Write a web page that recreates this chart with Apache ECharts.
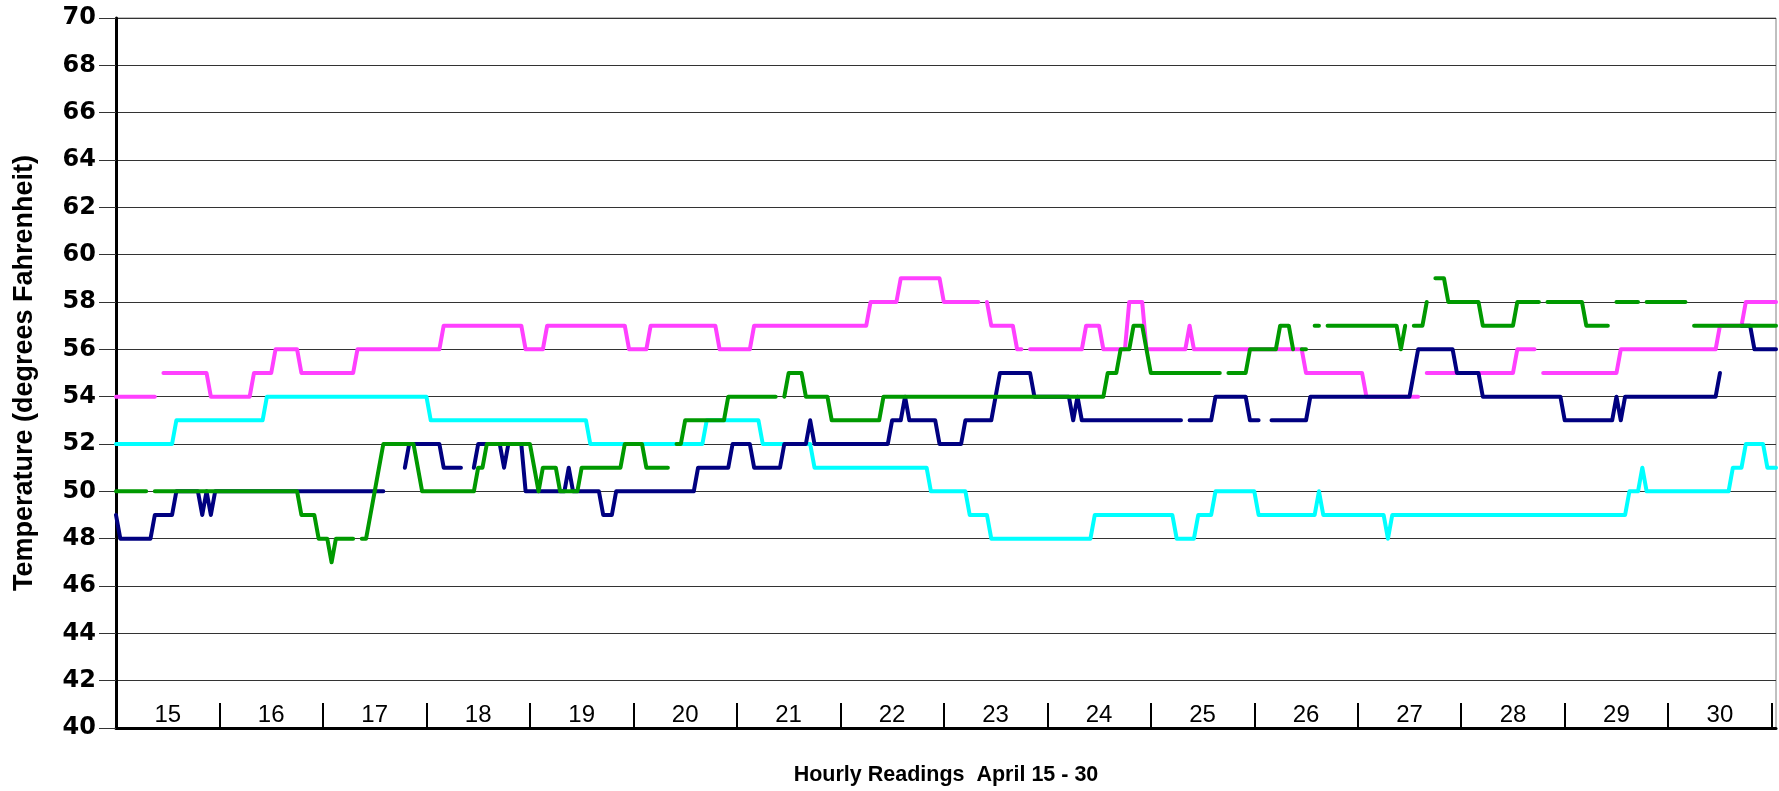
<!DOCTYPE html>
<html>
<head>
<meta charset="utf-8">
<script src="https://cdn.jsdelivr.net/npm/echarts@6/dist/echarts.min.js"></script>
<style>
html,body{margin:0;padding:0;background:#fff;}
#chart{width:1779px;height:791px;}
</style>
</head>
<body>
<div id="chart"></div>
<script>
// Day labels (one per 24 hourly readings)
const dayLabels = ['15','16','17','18','19','20','21','22','23','24','25','26','27','28','29','30'];
const yTicks = {min: 40, max: 70, interval: 2};
const _ = null;

// Hourly readings, one line per day (24 values), plus 2 trailing readings
const navySeries = [
49,48,48,48,48,48,48,48,48,49,49,49,49,49,50,50,50,50,50,50,49,50,49,50,
50,50,50,50,50,50,50,50,50,50,50,50,50,50,50,50,50,50,50,50,50,50,50,50,
50,50,50,50,50,50,50,50,50,50,50,50,50,50,50,_,_,_,_,51,52,52,52,52,
52,52,52,52,51,51,51,51,51,_,_,51,52,52,52,52,52,52,51,52,52,52,52,50,
50,50,50,50,50,50,50,50,50,51,50,50,50,50,50,50,50,49,49,49,50,50,50,50,
50,50,50,50,50,50,50,50,50,50,50,50,50,50,50,51,51,51,51,51,51,51,51,52,
52,52,52,52,51,51,51,51,51,51,51,52,52,52,52,52,52,53,52,52,52,52,52,52,
52,52,52,52,52,52,52,52,52,52,52,52,53,53,53,54,53,53,53,53,53,53,53,52,
52,52,52,52,52,53,53,53,53,53,53,53,54,55,55,55,55,55,55,55,55,54,54,54,
54,54,54,54,54,54,53,54,53,53,53,53,53,53,53,53,53,53,53,53,53,53,53,53,
53,53,53,53,53,53,53,53,_,53,53,53,53,53,53,54,54,54,54,54,54,54,54,53,
53,53,_,_,53,53,53,53,53,53,53,53,53,54,54,54,54,54,54,54,54,54,54,54,
54,54,54,54,54,54,54,54,54,54,54,54,54,55,56,56,56,56,56,56,56,56,56,55,
55,55,55,55,55,54,54,54,54,54,54,54,54,54,54,54,54,54,54,54,54,54,54,54,
53,53,53,53,53,53,53,53,53,53,53,53,54,53,54,54,54,54,54,54,54,54,54,54,
54,54,54,54,54,54,54,54,54,54,54,54,55,_,_,_,_,57,57,57,56,56,56,56,
56,56
];

const magentaSeries = [
54,54,54,54,54,54,54,54,54,54,_,55,55,55,55,55,55,55,55,55,55,55,54,54,
54,54,54,54,54,54,54,54,55,55,55,55,55,56,56,56,56,56,56,55,55,55,55,55,
55,55,55,55,55,55,55,55,56,56,56,56,56,56,56,56,56,56,56,56,56,56,56,56,
56,56,56,56,57,57,57,57,57,57,57,57,57,57,57,57,57,57,57,57,57,57,57,56,
56,56,56,56,57,57,57,57,57,57,57,57,57,57,57,57,57,57,57,57,57,57,57,56,
56,56,56,56,57,57,57,57,57,57,57,57,57,57,57,57,57,57,57,57,56,56,56,56,
56,56,56,56,57,57,57,57,57,57,57,57,57,57,57,57,57,57,57,57,57,57,57,57,
57,57,57,57,57,57,57,58,58,58,58,58,58,58,59,59,59,59,59,59,59,59,59,59,
58,58,58,58,58,58,58,58,58,_,58,57,57,57,57,57,57,56,56,_,56,56,56,56,
56,56,56,56,56,56,56,56,56,57,57,57,57,56,56,56,56,56,56,58,58,58,58,56,
56,56,56,56,56,56,56,56,56,57,56,56,56,56,56,56,56,56,56,56,56,56,56,56,
56,56,56,56,56,56,56,56,56,56,56,56,55,55,55,55,55,55,55,55,55,55,55,55,
55,55,54,54,54,54,54,54,54,54,54,54,54,54,54,_,55,55,55,55,55,55,55,55,
55,55,55,55,55,55,55,55,55,55,55,55,55,56,56,56,56,56,_,55,55,55,55,55,
55,55,55,55,55,55,55,55,55,55,55,55,55,56,56,56,56,56,56,56,56,56,56,56,
56,56,56,56,56,56,56,56,56,56,56,56,57,57,57,57,57,57,58,58,58,58,58,58,
58,58
];

const cyanSeries = [
52,52,52,52,52,52,52,52,52,52,52,52,52,52,53,53,53,53,53,53,53,53,53,53,
53,53,53,53,53,53,53,53,53,53,53,54,54,54,54,54,54,54,54,54,54,54,54,54,
54,54,54,54,54,54,54,54,54,54,54,54,54,54,54,54,54,54,54,54,54,54,54,54,
54,53,53,53,53,53,53,53,53,53,53,53,53,53,53,53,53,53,53,53,53,53,53,53,
53,53,53,53,53,53,53,53,53,53,53,53,53,53,52,52,52,52,52,52,52,52,52,52,
52,52,52,52,52,52,52,52,52,52,52,52,52,52,52,52,52,53,53,53,53,53,53,53,
53,53,53,53,53,53,52,52,52,52,52,52,52,52,52,52,52,52,51,51,51,51,51,51,
51,51,51,51,51,51,51,51,51,51,51,51,51,51,51,51,51,51,51,51,51,50,50,50,
50,50,50,50,50,50,49,49,49,49,49,48,48,48,48,48,48,48,48,48,48,48,48,48,
48,48,48,48,48,48,48,48,48,48,48,49,49,49,49,49,49,49,49,49,49,49,49,49,
49,49,49,49,49,49,48,48,48,48,48,49,49,49,49,50,50,50,50,50,50,50,50,50,
50,49,49,49,49,49,49,49,49,49,49,49,49,49,49,50,49,49,49,49,49,49,49,49,
49,49,49,49,49,49,49,48,49,49,49,49,49,49,49,49,49,49,49,49,49,49,49,49,
49,49,49,49,49,49,49,49,49,49,49,49,49,49,49,49,49,49,49,49,49,49,49,49,
49,49,49,49,49,49,49,49,49,49,49,49,49,49,49,50,50,50,51,50,50,50,50,50,
50,50,50,50,50,50,50,50,50,50,50,50,50,50,50,51,51,51,52,52,52,52,52,51,
51,51
];

const greenSeries = [
50,50,50,50,50,50,50,50,_,50,50,50,50,50,50,50,50,50,50,50,50,50,50,50,
50,50,50,50,50,50,50,50,50,50,50,50,50,50,50,50,50,50,50,49,49,49,49,48,
48,48,47,48,48,48,48,48,_,48,48,49,50,51,52,52,52,52,52,52,52,52,51,50,
50,50,50,50,50,50,50,50,50,50,50,50,51,51,52,52,52,52,52,52,52,52,52,52,
52,51,50,51,51,51,51,50,50,50,50,50,51,51,51,51,51,51,51,51,51,51,52,52,
52,52,52,51,51,51,51,51,51,_,52,52,53,53,53,53,53,53,53,53,53,53,54,54,
54,54,54,54,54,54,54,54,54,54,_,54,55,55,55,55,54,54,54,54,54,54,53,53,
53,53,53,53,53,53,53,53,53,53,54,54,54,54,54,54,54,54,54,54,54,54,54,54,
54,54,54,54,54,54,54,54,54,54,54,54,54,54,54,54,54,54,54,54,54,54,54,54,
54,54,54,54,54,54,54,54,54,54,54,54,54,54,55,55,55,56,56,56,57,57,57,56,
55,55,55,55,55,55,55,55,55,55,55,55,55,55,55,55,55,_,55,55,55,55,55,56,
56,56,56,56,56,56,57,57,57,56,_,56,56,_,57,57,_,57,57,57,57,57,57,57,
57,57,57,57,57,57,57,57,57,57,56,57,_,57,57,57,58,_,59,59,59,58,58,58,
58,58,58,58,58,57,57,57,57,57,57,57,57,58,58,58,58,58,58,_,58,58,58,58,
58,58,58,58,58,57,57,57,57,57,57,_,58,58,58,58,58,58,_,58,58,58,58,58,
58,58,58,58,58,_,57,57,57,57,57,57,57,57,57,57,57,57,57,57,57,57,57,57,
57,57
];

const hours = navySeries.map((v, i) => String(i));
const FONT = 'Liberation Sans, Arial, sans-serif';
const TICKFONT = 'DejaVu Sans, Liberation Sans, sans-serif';

const chart = echarts.init(document.getElementById('chart'), null, {renderer: 'canvas'});

function mkSeries(name, data, color) {
  return {
    name: name, type: 'line', data: data, showSymbol: false, symbol: 'none',
    connectNulls: false, smooth: false, animation: false, sampling: false,
    lineStyle: {color: color, width: 4, cap: 'round', join: 'round'},
    itemStyle: {color: color},
    emphasis: {disabled: true}
  };
}

chart.setOption({
  animation: false,
  backgroundColor: '#ffffff',
  textStyle: {fontFamily: FONT},
  grid: {left: 116, right: 3, top: 18, bottom: 59, containLabel: false,
         show: true, borderColor: '#808080', borderWidth: 1, backgroundColor: 'transparent'},
  xAxis: {
    type: 'category',
    data: hours,
    boundaryGap: false,
    name: 'Hourly Readings  April 15 - 30',
    nameLocation: 'middle',
    nameGap: 36,
    nameTextStyle: {fontFamily: FONT, fontSize: 21.5, fontWeight: 'bold', color: '#000'},
    axisLine: {show: true, onZero: false, lineStyle: {color: '#000', width: 3}},
    axisTick: {show: true, inside: true, length: 25, alignWithLabel: false,
               interval: function (idx) { return idx % 24 === 0; },
               lineStyle: {color: '#000', width: 2}},
    axisLabel: {show: true, inside: true, margin: 1, fontSize: 24, color: '#000', fontFamily: FONT,
                interval: function (idx) { return idx % 24 === 12; },
                formatter: function (v, idx) { return dayLabels[Math.floor(Number(v) / 24)] || ''; }},
    splitLine: {show: false}
  },
  yAxis: {
    type: 'value',
    min: yTicks.min, max: yTicks.max, interval: yTicks.interval,
    name: 'Temperature (degrees Fahrenheit)',
    nameLocation: 'middle',
    nameGap: 78,
    nameRotate: 90,
    nameTextStyle: {fontFamily: FONT, fontSize: 27, fontWeight: 'bold', color: '#000'},
    axisLine: {show: true, lineStyle: {color: '#000', width: 3}},
    axisTick: {show: true, length: 17, lineStyle: {color: '#333', width: 1}},
    axisLabel: {margin: 20, fontSize: 24, fontWeight: 'bold', color: '#000', fontFamily: TICKFONT},
    splitLine: {show: true, lineStyle: {color: '#333', width: 1}}
  },
  series: [
    mkSeries('magenta', magentaSeries, '#ff40ff'),
    mkSeries('cyan', cyanSeries, '#00ffff'),
    mkSeries('navy', navySeries, '#000080'),
    mkSeries('green', greenSeries, '#009900')
  ]
});
</script>
</body>
</html>
